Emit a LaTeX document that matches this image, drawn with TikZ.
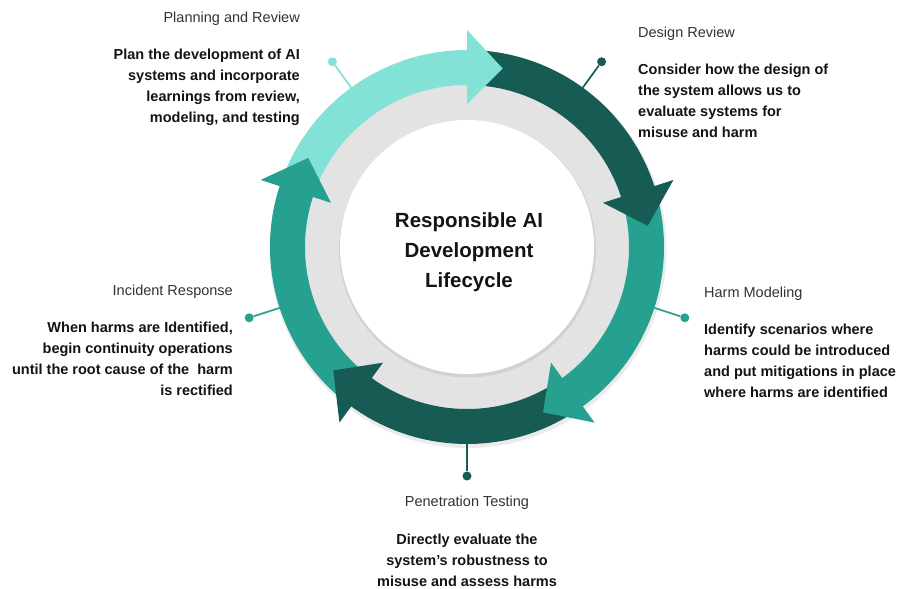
\documentclass[tikz,border=0pt]{standalone}
\usepackage{fontspec}
\setmainfont{Liberation Sans}
\usepackage{xcolor}
\definecolor{LightTeal}{HTML}{82E2D6}
\definecolor{MidTeal}{HTML}{26A08F}
\definecolor{DarkTeal}{HTML}{165C54}
\definecolor{RingGrey}{HTML}{E3E3E3}
\definecolor{LabelGrey}{HTML}{333333}
\definecolor{BodyBlack}{HTML}{141414}

\begin{document}
\begin{tikzpicture}[x=1pt,y=1pt,yscale=-1,xscale=1,
		stagetitle/.style={inner sep=0pt, text=LabelGrey, font=\fontsize{14.5}{21}\selectfont},
		stagebody/.style={inner sep=0pt, text=BodyBlack, font=\fontsize{14.5}{21}\selectfont\bfseries},
		pindot/.style={circle, fill=#1, inner sep=0pt, minimum size=9pt},
		pinline/.style={draw=#1, line width=1.7pt}]
		% Canvas of the diagram: 898 x 589
		\useasboundingbox (0,0) rectangle (898,589);
		\fill[white] (0,0) rectangle (898,589);

		\begin{scope}[shift={(467,247)}]
		% Soft shadows under the ring
		\fill[black, opacity=0.08, even odd rule, shift={(1,2.5)}] (0,0) circle[radius=198.5pt] (0,0) circle[radius=161pt];
		% Grey ring and white hub
		\fill[RingGrey] (0,0) circle[radius=162pt];
		\fill[black, opacity=0.07, shift={(0.5,2)}] (0,0) circle[radius=128.5pt];
		\fill[white] (0,0) circle[radius=127pt];

		% The five bands of the cycle
		\fill[LightTeal] (-161.5:197pt) arc[start angle=-161.5, end angle=-89.5, radius=197pt] -- (-89.5:162pt) arc[start angle=-89.5, end angle=-161.5, radius=162pt] -- cycle;
		\fill[DarkTeal] (-89.5:197pt) arc[start angle=-89.5, end angle=-17.5, radius=197pt] -- (-17.5:162pt) arc[start angle=-17.5, end angle=-89.5, radius=162pt] -- cycle;
		\fill[MidTeal] (-17.5:197pt) arc[start angle=-17.5, end angle=54.5, radius=197pt] -- (54.5:162pt) arc[start angle=54.5, end angle=-17.5, radius=162pt] -- cycle;
		\fill[DarkTeal] (54.5:197pt) arc[start angle=54.5, end angle=126.5, radius=197pt] -- (126.5:162pt) arc[start angle=126.5, end angle=54.5, radius=162pt] -- cycle;
		\fill[MidTeal] (126.5:197pt) arc[start angle=126.5, end angle=198.5, radius=197pt] -- (198.5:162pt) arc[start angle=198.5, end angle=126.5, radius=162pt] -- cycle;

		% The five arrow heads, each lying over the next band
		\fill[LightTeal] (-90:143pt) -- (-90:217pt) -- (-78.7:182pt) -- cycle;
		\fill[DarkTeal] (-18:143pt) -- (-18:217pt) -- (-6.7:182pt) -- cycle;
		\fill[MidTeal] (54:143pt) -- (54:217pt) -- (65.3:182pt) -- cycle;
		\fill[DarkTeal] (126:143pt) -- (126:217pt) -- (137.3:182pt) -- cycle;
		\fill[MidTeal] (198:143pt) -- (198:217pt) -- (209.3:182pt) -- cycle;

		% Pins from the ring to the labels
		\coordinate (plan-foot) at (-126:197pt);
		\node[pindot=LightTeal] (plan-dot) at (-126:229pt) {};
		\coordinate (design-foot) at (-54:197pt);
		\node[pindot=DarkTeal] (design-dot) at (-54:229pt) {};
		\coordinate (harm-foot) at (18:197pt);
		\node[pindot=MidTeal] (harm-dot) at (18:229pt) {};
		\coordinate (pentest-foot) at (90:197pt);
		\node[pindot=DarkTeal] (pentest-dot) at (90:229pt) {};
		\coordinate (incident-foot) at (162:197pt);
		\node[pindot=MidTeal] (incident-dot) at (162:229pt) {};
		\end{scope}

		\draw[pinline=LightTeal] (plan-foot) -- (plan-dot);
		\draw[pinline=DarkTeal] (design-foot) -- (design-dot);
		\draw[pinline=MidTeal] (harm-foot) -- (harm-dot);
		\draw[pinline=DarkTeal] (pentest-foot) -- (pentest-dot);
		\draw[pinline=MidTeal] (incident-foot) -- (incident-dot);

		% Title in the hub
		\node[inner sep=0pt, text=BodyBlack, align=center, font=\fontsize{20.5}{30}\selectfont\bfseries] (hub-title) at (469,252) {Responsible AI\\Development\\Lifecycle};

		% Planning and Review
		\node[stagetitle, anchor=base east] (plan-title) at (300,22.5) {Planning and Review};
		\node[stagebody, anchor=north east, align=right] (plan-body) at (300,49) {Plan the development of AI\\systems and incorporate\\learnings from review,\\modeling, and testing};

		% Design Review
		\node[stagetitle, anchor=base west] (design-title) at (638,37.5) {Design Review};
		\node[stagebody, anchor=north west, align=left] (design-body) at (638,64) {Consider how the design of\\the system allows us to\\evaluate systems for\\misuse and harm};

		% Harm Modeling
		\node[stagetitle, anchor=base west] (harm-title) at (704,297.5) {Harm Modeling};
		\node[stagebody, anchor=north west, align=left] (harm-body) at (704,323.5) {Identify scenarios where\\harms could be introduced\\and put mitigations in place\\where harms are identified};

		% Penetration Testing
		\node[stagetitle, anchor=base] (pentest-title) at (467,506.5) {Penetration Testing};
		\node[stagebody, anchor=north, align=center] (pentest-body) at (467,533.5) {Directly evaluate the\\system’s robustness to\\misuse and assess harms};

		% Incident Response
		\node[stagetitle, anchor=base east] (incident-title) at (233,295) {Incident Response};
		\node[stagebody, anchor=north east, align=right] (incident-body) at (233,321.5) {When harms are Identified,\\begin continuity operations\\until the root cause of the \ harm\\is rectified};
	\end{tikzpicture}
\end{document}
